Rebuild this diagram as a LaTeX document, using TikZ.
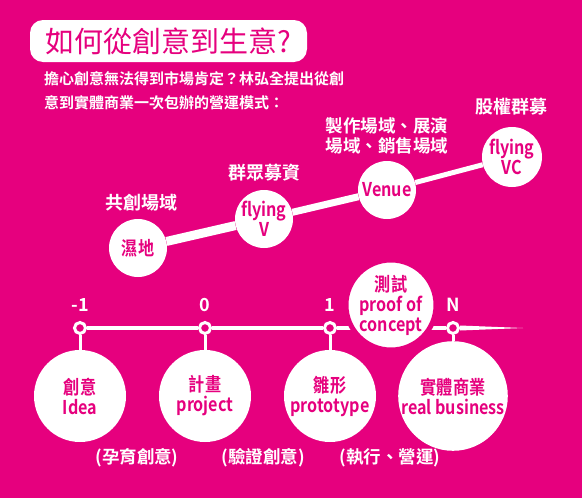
\documentclass[tikz,border=0pt]{standalone}
\usepackage{fontspec}
\usetikzlibrary{calc}
\newfontfamily\cjk{Noto Sans CJK TC}[BoldFont={Noto Sans CJK TC Bold}]
\newfontfamily\cjkc{Noto Sans CJK TC}[BoldFont={Noto Sans CJK TC Bold},FakeStretch=0.85]
\definecolor{rose}{RGB}{230,0,126}
\tikzset{
  stage/.style={circle, fill=white, text=rose, minimum size=92pt, inner sep=0pt, align=center,
                font=\cjkc\bfseries\fontsize{19}{20}\selectfont},
  spot/.style={circle, fill=white, text=rose, minimum size=58pt, inner sep=0pt, align=center,
               font=\cjkc\bfseries\fontsize{19}{20}\selectfont},
  caption/.style={text=white, inner sep=0pt, align=center, font=\cjk\bfseries\fontsize{17.5}{20}\selectfont},
  ring/.style={circle, draw=white, fill=rose, line width=3pt, minimum size=11pt, inner sep=0pt},
}

\begin{document}
\begin{tikzpicture}[x=1pt, y=-1pt]
    % Background
    \fill[rose] (0,0) rectangle (582,498);
    \useasboundingbox (0,0) rectangle (582,498);

    % Title
    \node[fill=white, rounded corners=13pt, minimum width=277pt, minimum height=42pt, text=rose,
          font=\cjk\fontsize{29}{30}\selectfont] (title) at (168.5,41) {如何從創意到生意?};
    \node[caption, anchor=west, font=\cjk\bfseries\fontsize{15}{16}\selectfont] (intro1) at (44,79)
        {擔心創意無法得到市場肯定？林弘全提出從創};
    \node[caption, anchor=west, font=\cjk\bfseries\fontsize{15}{16}\selectfont] (intro2) at (44,103)
        {意到實體商業一次包辦的營運模式：};

    % Upper path of venues
    \node[spot] (wetland) at (138,248) {濕地};
    \node[spot] (flyv) at (264,219) {flying\\V};
    \node[spot] (venue) at (387,190) {Venue};
    \node[spot, minimum size=60pt] (flyvc) at (512,157) {flying\\VC};
    \draw[white, line width=9pt] (wetland) -- (flyv);
    \draw[white, line width=7pt] (flyv) -- (venue);
    \draw[white, line width=5pt] (venue) -- (flyvc);

    \node[caption, font=\cjk\bfseries\fontsize{18}{20}\selectfont] (cowork) at (141,203) {共創場域};
    \node[caption, font=\cjk\bfseries\fontsize{18}{20}\selectfont] (crowd) at (264,173) {群眾募資};
    \node[caption, font=\cjk\bfseries\fontsize{17.5}{20}\selectfont] (makers) at (387,136) {製作場域、展演\\場域、銷售場域};
    \node[caption, font=\cjk\bfseries\fontsize{18}{20}\selectfont] (equity) at (511,107) {股權群募};

    % Timeline
    \foreach \name/\x/\t in {ma/80/-1, mb/205/0, mc/330/1, md/453/N} {
        \node[ring] (\name) at (\x,328) {};
        \node[caption, font=\cjk\bfseries\fontsize{18}{20}\selectfont] (t\name) at (\x,305) {\t};
    }
    \draw[white, line width=4pt] (ma) -- (mb) -- (mc) -- (md);
    \coordinate (tip) at (523,328);
    \fill[white] ($(md.east)+(0,-2.5)$) -- (tip) -- ($(md.east)+(0,2.5)$) -- cycle;

    % Stages
    \node[stage] (idea) at (80,396) {創意\\Idea};
    \node[stage] (plan) at (205,396) {計畫\\project};
    \node[stage] (proto) at (330,396) {雛形\\prototype};
    \node[stage] (biz) at (453,396) {實體商業\\real business};
    \foreach \m/\s in {ma/idea, mb/plan, mc/proto, md/biz}
        \draw[white, line width=3pt] (\m) -- (\s);

    \node[stage, draw=rose, line width=5pt, minimum size=90pt] (poc) at (391,305) {測試\\proof of\\concept};

    % Captions
    \node[caption] (grow) at (137,458) {(孕育創意)};
    \node[caption] (check) at (263,458) {(驗證創意)};
    \node[caption] (run) at (390,458) {(執行、營運)};
\end{tikzpicture}
\end{document}
